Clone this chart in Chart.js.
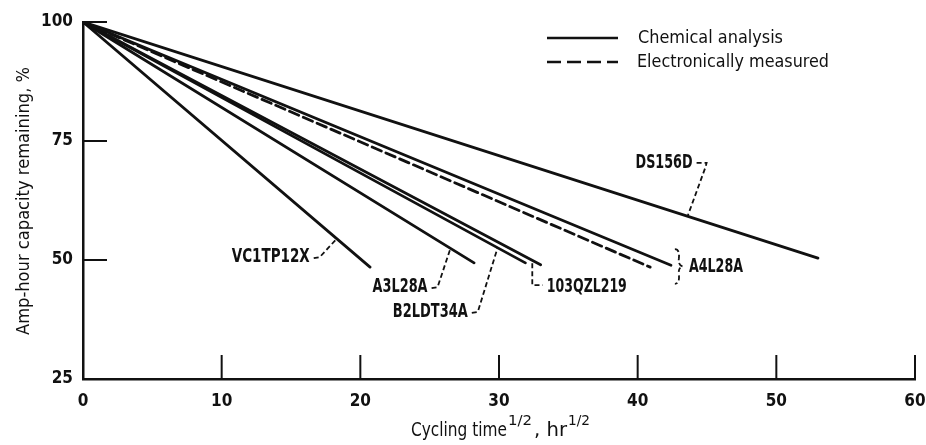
<!DOCTYPE html>
<html>
<head>
<meta charset="utf-8">
<script src="https://cdn.jsdelivr.net/npm/chart.js@4.4.1/dist/chart.umd.min.js"></script>
<style>
  html, body { margin: 0; padding: 0; background: #fff; }
  #wrap { width: 926px; height: 445px; }
</style>
</head>
<body>
<div id="wrap"><canvas id="chart"></canvas></div>
<script>
// values: every cell starts at 100 % at t = 0
const CELLS   = ['DS156D', 'A4L28A', 'A4L28A', '103QZL219', 'B2LDT34A', 'A3L28A', 'VC1TP12X'];
const METHOD  = ['chem', 'chem', 'elec', 'chem', 'chem', 'chem', 'chem'];
const START_X = [0, 0, 0, 0, 0, 0, 0];
const START_Y = [100, 100, 100, 100, 100, 100, 100];
const END_X   = [53.0, 42.4, 40.9, 33.0, 31.9, 28.2, 20.7];
const END_Y   = [50.4, 48.9, 48.5, 49.0, 49.4, 49.4, 48.5];
const X_TICKS = [0, 10, 20, 30, 40, 50, 60];
const Y_TICKS = [25, 50, 75, 100];

const FONT = "'Liberation Sans Narrow', 'DejaVu Sans Condensed', 'Liberation Sans', sans-serif";
const INK = '#111';

// series value at a given x (straight line from start to end)
function yOn(i, x) {
  return START_Y[i] + (END_Y[i] - START_Y[i]) * (x - START_X[i]) / (END_X[i] - START_X[i]);
}

// text squeezed to the width it has in the scan
function fitText(ctx, text, x, y, width, size, weight, align) {
  ctx.save();
  ctx.font = weight + ' ' + size + 'px ' + FONT;
  ctx.textBaseline = 'middle';
  ctx.textAlign = 'left';
  const w = ctx.measureText(text).width;
  ctx.translate(x, y);
  ctx.scale(width / w, 1);
  ctx.fillText(text, align === 'right' ? -w : 0, 0);
  ctx.restore();
}

// curve labels: anchor in data units, leader ends on its series at tx
const LABELS = [
  { text: 'VC1TP12X',  x: 16.35, y: 50.6, w: 78, align: 'right', series: 6, tx: 18.3 },
  { text: 'A3L28A',    x: 24.85, y: 44.3, w: 55, align: 'right', series: 5, tx: 26.5 },
  { text: 'B2LDT34A',  x: 27.75, y: 39.1, w: 75, align: 'right', series: 4, tx: 29.9 },
  { text: '103QZL219', x: 33.45, y: 44.3, w: 80, align: 'left',  series: 3, tx: 32.4 },
  { text: 'A4L28A',    x: 43.7,  y: 48.5, w: 54, align: 'left',  series: 1 },
  { text: 'DS156D',    x: 39.85, y: 70.4, w: 57, align: 'left',  series: 0, tx: 43.6 },
];

const annotate = {
  id: 'annotate',
  afterDraw(chart) {
    const { ctx, chartArea: a, scales: { x, y } } = chart;
    ctx.save();
    ctx.fillStyle = INK;
    ctx.strokeStyle = INK;

    // inward tick marks
    ctx.lineWidth = 2;
    X_TICKS.slice(1).forEach(v => {
      const px = x.getPixelForValue(v);
      ctx.beginPath(); ctx.moveTo(px, a.bottom); ctx.lineTo(px, a.bottom - 24); ctx.stroke();
    });
    Y_TICKS.slice(1).forEach(v => {
      const py = y.getPixelForValue(v);
      ctx.beginPath(); ctx.moveTo(a.left, py); ctx.lineTo(a.left + 24, py); ctx.stroke();
    });

    // labels and dashed leaders
    ctx.lineWidth = 1.8;
    ctx.setLineDash([5, 3]);
    LABELS.forEach(l => {
      const px = x.getPixelForValue(l.x), py = y.getPixelForValue(l.y);
      fitText(ctx, l.text, px, py, l.w, 19, 'bold', l.align);
      if (l.tx === undefined) return;
      const tx = x.getPixelForValue(l.tx), ty = y.getPixelForValue(yOn(l.series, l.tx));
      ctx.beginPath();
      if (l.text === '103QZL219') {
        ctx.moveTo(tx, ty + 3); ctx.lineTo(tx, py - 2); ctx.lineTo(px - 4, py - 2);
      } else if (l.text === 'DS156D') {
        ctx.moveTo(px + l.w + 4, py); ctx.lineTo(px + l.w + 14, py); ctx.lineTo(px + l.w + 13, py + 4);
        ctx.lineTo(tx, ty);
      } else {
        ctx.moveTo(px + 4, py + 1); ctx.lineTo(px + 10, py); ctx.lineTo(tx, ty);
      }
      ctx.stroke();
    });

    // brace grouping the two A4L28A curves
    const bx = x.getPixelForValue(42.9);
    const bt = y.getPixelForValue(52.3), bb = y.getPixelForValue(45.0), bm = (bt + bb) / 2;
    ctx.beginPath();
    ctx.moveTo(bx - 3, bt);
    ctx.quadraticCurveTo(bx + 2, bt, bx + 1, bm - 8);
    ctx.quadraticCurveTo(bx, bm - 1, bx + 5, bm);
    ctx.quadraticCurveTo(bx, bm + 1, bx + 1, bm + 8);
    ctx.quadraticCurveTo(bx + 2, bb, bx - 3, bb);
    ctx.stroke();

    // legend
    ctx.setLineDash([]);
    ctx.lineWidth = 2.5;
    ctx.beginPath(); ctx.moveTo(547, 38); ctx.lineTo(618, 38); ctx.stroke();
    ctx.setLineDash([14, 6]);
    ctx.beginPath(); ctx.moveTo(547, 62); ctx.lineTo(618, 62); ctx.stroke();
    ctx.setLineDash([]);
    fitText(ctx, 'Chemical analysis', 638, 38, 145, 18, 'normal', 'left');
    fitText(ctx, 'Electronically measured', 637, 62, 192, 18, 'normal', 'left');

    // axis titles
    ctx.save();
    ctx.translate(24, 201);
    ctx.rotate(-Math.PI / 2);
    fitText(ctx, 'Amp-hour capacity remaining, %', -134, 0, 268, 18, 'normal', 'left');
    ctx.restore();
    fitText(ctx, 'Cycling time', 411, 431, 96, 19, 'normal', 'left');
    fitText(ctx, '1/2', 508, 421, 24, 14, 'normal', 'left');
    fitText(ctx, ', hr', 534, 431, 33, 19, 'normal', 'left');
    fitText(ctx, '1/2', 568, 421, 22, 14, 'normal', 'left');
    ctx.restore();
  }
};

const datasets = CELLS.map((name, i) => ({
  label: name,
  data: [{ x: START_X[i], y: START_Y[i] }, { x: END_X[i], y: END_Y[i] }],
  borderColor: INK,
  borderWidth: 2.8,
  borderDash: METHOD[i] === 'elec' ? [10, 5] : [],
  borderCapStyle: 'round',
  pointRadius: 0,
  fill: false,
  tension: 0,
}));

new Chart(document.getElementById('chart'), {
  type: 'line',
  data: { datasets },
  plugins: [annotate],
  options: {
    responsive: true, maintainAspectRatio: false, animation: false,
    layout: { padding: { top: 22, right: 0, left: 0, bottom: 0 } },
    plugins: { legend: { display: false }, tooltip: { enabled: false } },
    scales: {
      x: {
        type: 'linear', min: 0, max: 60,
        afterBuildTicks: s => { s.ticks = X_TICKS.map(v => ({ value: v })); },
        afterFit: s => { s.height = 66; s.paddingRight = 11; s.paddingLeft = 0; },
        ticks: { color: INK, padding: 12, font: { family: FONT, size: 17, weight: 'bold' }, maxRotation: 0 },
        grid: { display: true, drawOnChartArea: false, drawTicks: false },
        border: { display: true, color: INK, width: 2.5 },
      },
      y: {
        type: 'linear', min: 25, max: 100,
        afterBuildTicks: s => { s.ticks = Y_TICKS.map(v => ({ value: v })); },
        afterFit: s => { s.width = 83; },
        ticks: { color: INK, padding: 10, font: { family: FONT, size: 17, weight: 'bold' } },
        grid: { display: true, drawOnChartArea: false, drawTicks: false },
        border: { display: true, color: INK, width: 2.5 },
      },
    },
  },
});
</script>
</body>
</html>
